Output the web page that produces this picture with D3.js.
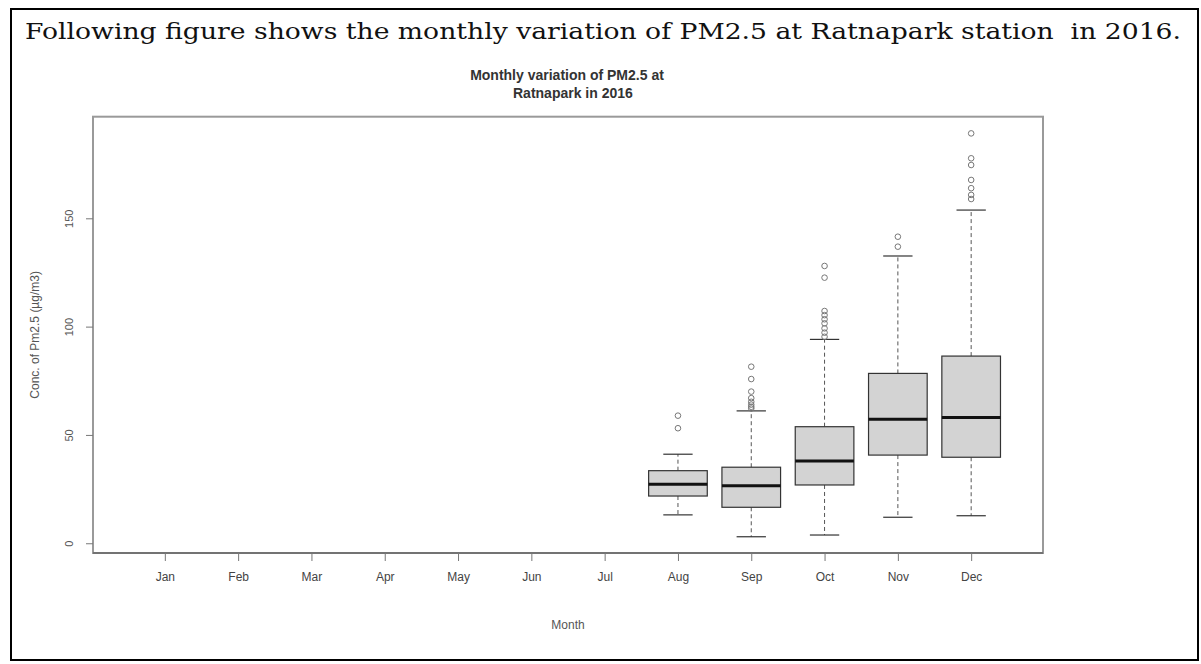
<!DOCTYPE html>
<html>
<head>
<meta charset="utf-8">
<script src="https://cdn.jsdelivr.net/npm/d3@7"></script>
<style>
  body { margin: 0; background: #fff; }
  svg { display: block; }
</style>
</head>
<body>
<svg id="chart" width="1201" height="664"></svg>
<script>
// month axis categories
var months = ["Jan", "Feb", "Mar", "Apr", "May", "Jun", "Jul", "Aug", "Sep", "Oct", "Nov", "Dec"];
var yTicks = [0, 50, 100, 150];

// boxplot stats (only Aug-Dec have data)
var boxMonths = ["Aug", "Sep", "Oct", "Nov", "Dec"];
var lowerWhisker = [13.1, 3.0, 3.8, 12.0, 12.7];
var q1 = [21.8, 16.6, 26.9, 40.7, 39.7];
var median = [27.2, 26.6, 38.0, 57.2, 58.1];
var q3 = [33.5, 35.1, 53.8, 78.4, 86.4];
var upperWhisker = [41.1, 61.1, 94.1, 132.6, 153.8];
var outliers = [
    [53.1, 58.9],
    [62.2, 63.0, 64.0, 65.3, 67.0, 70.0, 75.8, 81.5],
    [95.3, 97.2, 99.2, 101.5, 103.4, 105.3, 107.2, 122.6, 128.0],
    [136.9, 141.5],
    [158.9, 160.8, 163.9, 167.7, 174.6, 177.7, 189.2]
];

var svg = d3.select("#chart");

// page frame (table cell look)
svg.append("rect")
    .attr("x", 11).attr("y", 9)
    .attr("width", 1187).attr("height", 651)
    .attr("fill", "none")
    .attr("stroke", "#000")
    .attr("stroke-width", 2);

svg.append("text")
    .attr("x", 25).attr("y", 39)
    .attr("textLength", 1156)
    .attr("lengthAdjust", "spacingAndGlyphs")
    .style("font-family", "DejaVu Serif, serif")
    .style("font-size", "23px")
    .style("white-space", "pre")
    .attr("fill", "#111")
    .text("Following figure shows the monthly variation of PM2.5 at Ratnapark station  in 2016.");

// plot area
var plotLeft = 93, plotRight = 1043, plotTop = 116.7, plotBottom = 553;

var x = d3.scaleLinear()
    .domain([0.02, 12.98])
    .range([plotLeft, plotRight]);

var y = d3.scaleLinear()
    .domain([-4.5, 196.9])
    .range([plotBottom, plotTop]);

// chart title
svg.append("text")
    .attr("x", 567).attr("y", 80)
    .attr("text-anchor", "middle")
    .style("font-family", "Liberation Sans, Arial, sans-serif")
    .style("font-size", "14px")
    .style("font-weight", "bold")
    .attr("fill", "#333")
    .text("Monthly variation of PM2.5 at");
svg.append("text")
    .attr("x", 513).attr("y", 98)
    .style("font-family", "Liberation Sans, Arial, sans-serif")
    .style("font-size", "14px")
    .style("font-weight", "bold")
    .attr("fill", "#333")
    .text("Ratnapark in 2016");

// plot box
svg.append("rect")
    .attr("x", plotLeft).attr("y", plotTop)
    .attr("width", plotRight - plotLeft).attr("height", plotBottom - plotTop)
    .attr("fill", "none")
    .attr("stroke", "#9a9a9a")
    .attr("stroke-width", 2);
svg.append("line")
    .attr("x1", plotLeft).attr("x2", plotRight)
    .attr("y1", plotBottom).attr("y2", plotBottom)
    .attr("stroke", "#666")
    .attr("stroke-width", 1.5);

// axes
var xAxis = d3.axisBottom(x)
    .tickValues(d3.range(1, 13))
    .tickFormat(function(d){ return months[d - 1]; })
    .tickSize(8);

var gx = svg.append("g")
    .attr("transform", "translate(0," + plotBottom + ")")
    .call(xAxis);
gx.select(".domain").remove();
gx.selectAll("line").attr("stroke", "#777");
gx.selectAll("text")
    .attr("y", 24)
    .attr("dy", "0.35em")
    .attr("fill", "#444")
    .style("font-family", "Liberation Sans, Arial, sans-serif")
    .style("font-size", "12px");

var yAxis = d3.axisLeft(y)
    .tickValues(yTicks)
    .tickSize(7);

var gy = svg.append("g")
    .attr("transform", "translate(" + plotLeft + ",0)")
    .call(yAxis);
gy.select(".domain").remove();
gy.selectAll("line").attr("stroke", "#777");
gy.selectAll("text")
    .attr("transform", "rotate(-90)")
    .attr("x", 0)
    .attr("y", -24)
    .attr("dy", "0.35em")
    .attr("text-anchor", "middle")
    .attr("fill", "#555")
    .style("font-family", "Liberation Sans, Arial, sans-serif")
    .style("font-size", "11px");

// axis titles
svg.append("text")
    .attr("x", (plotLeft + plotRight) / 2).attr("y", 629)
    .attr("text-anchor", "middle")
    .attr("fill", "#555")
    .style("font-family", "Liberation Sans, Arial, sans-serif")
    .style("font-size", "12px")
    .text("Month");

svg.append("text")
    .attr("transform", "translate(39," + ((plotTop + plotBottom) / 2) + ") rotate(-90)")
    .attr("text-anchor", "middle")
    .attr("fill", "#555")
    .style("font-family", "Liberation Sans, Arial, sans-serif")
    .style("font-size", "12px")
    .text("Conc. of Pm2.5 (µg/m3)");

// boxes
var boxData = boxMonths.map(function(m, i){
    return {
        pos: months.indexOf(m) + 1,
        lo: lowerWhisker[i], q1: q1[i], med: median[i], q3: q3[i], hi: upperWhisker[i],
        out: outliers[i]
    };
});

var halfBox = x(1.4) - x(1);      // boxwex 0.8
var halfStaple = halfBox / 2;     // staplewex 0.5

var g = svg.append("g").attr("id", "boxes");
var boxes = g.selectAll("g.box")
    .data(boxData)
    .enter()
    .append("g")
    .attr("class", "box");

// whiskers (dashed)
boxes.append("line")
    .attr("x1", function(d){ return x(d.pos); })
    .attr("x2", function(d){ return x(d.pos); })
    .attr("y1", function(d){ return y(d.q3); })
    .attr("y2", function(d){ return y(d.hi); })
    .attr("stroke", "#555").attr("stroke-width", 1)
    .attr("stroke-dasharray", "4,3");
boxes.append("line")
    .attr("x1", function(d){ return x(d.pos); })
    .attr("x2", function(d){ return x(d.pos); })
    .attr("y1", function(d){ return y(d.q1); })
    .attr("y2", function(d){ return y(d.lo); })
    .attr("stroke", "#555").attr("stroke-width", 1)
    .attr("stroke-dasharray", "4,3");

// staples
["hi", "lo"].forEach(function(k){
    boxes.append("line")
        .attr("x1", function(d){ return x(d.pos) - halfStaple; })
        .attr("x2", function(d){ return x(d.pos) + halfStaple; })
        .attr("y1", function(d){ return y(d[k]); })
        .attr("y2", function(d){ return y(d[k]); })
        .attr("stroke", "#333").attr("stroke-width", 1.2);
});

boxes.append("rect")
    .attr("x", function(d){ return x(d.pos) - halfBox; })
    .attr("width", 2 * halfBox)
    .attr("y", function(d){ return y(d.q3); })
    .attr("height", function(d){ return y(d.q1) - y(d.q3); })
    .attr("fill", "#d3d3d3")
    .attr("stroke", "#333")
    .attr("stroke-width", 1.2);

boxes.append("line")
    .attr("x1", function(d){ return x(d.pos) - halfBox; })
    .attr("x2", function(d){ return x(d.pos) + halfBox; })
    .attr("y1", function(d){ return y(d.med); })
    .attr("y2", function(d){ return y(d.med); })
    .attr("stroke", "#111").attr("stroke-width", 3);

boxes.selectAll("circle")
    .data(function(d){ return d.out.map(function(v){ return {pos: d.pos, v: v}; }); })
    .enter()
    .append("circle")
    .attr("cx", function(d){ return x(d.pos); })
    .attr("cy", function(d){ return y(d.v); })
    .attr("r", 2.8)
    .attr("fill", "none")
    .attr("stroke", "#777")
    .attr("stroke-width", 1);
</script>
</body>
</html>
